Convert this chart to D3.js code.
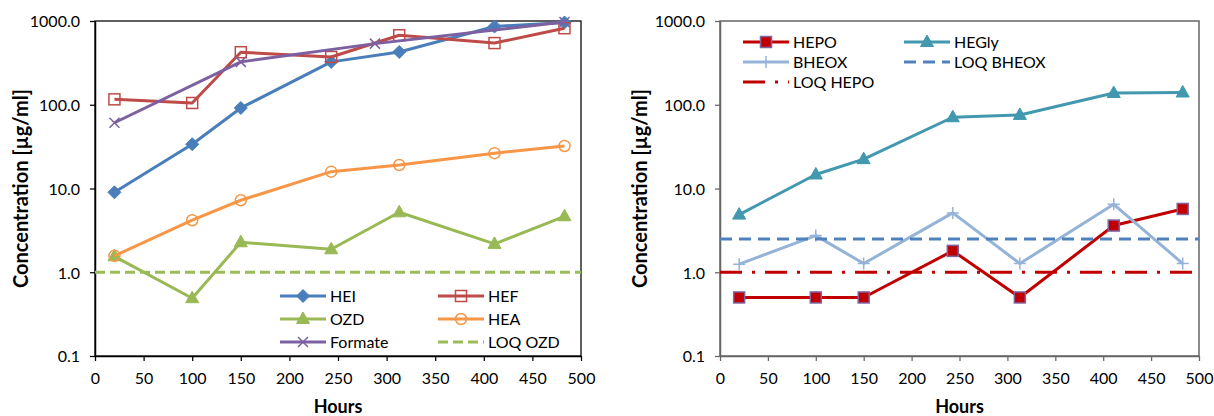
<!DOCTYPE html>
<html>
<head>
<meta charset="utf-8">
<script src="https://cdn.jsdelivr.net/npm/d3@7"></script>
<style>
  html, body { margin: 0; padding: 0; background: #fff; }
  svg { display: block; }
  text { font-family: Lato, "Open Sans", sans-serif; }
</style>
</head>
<body>
<svg id="chart" width="1214" height="416"></svg>
<script>
// ---------- data ----------
const hours = [20, 100, 150, 243, 313, 411, 483];
const formateHours = [20, 150, 288, 483];

const hei = [9.0, 33.8, 91.6, 325, 427, 860, 960];
const hef = [116, 105, 424, 372, 676, 545, 820];
const ozd = [1.55, 0.49, 2.28, 1.88, 5.2, 2.18, 4.66];
const hea = [1.57, 4.18, 7.24, 15.9, 19.1, 26.4, 32.2];
const formate = [61, 325, 537, 975];
const loqOzd = 1.0;

const hepo = [0.5, 0.5, 0.5, 1.8, 0.5, 3.61, 5.7];
const hegly = [4.88, 14.7, 22.4, 70.9, 75.6, 138, 140];
const bheox = [1.25, 2.74, 1.27, 5.11, 1.27, 6.48, 1.27];
const loqBheox = 2.5;
const loqHepo = 1.0;

const xTicks = [0, 50, 100, 150, 200, 250, 300, 350, 400, 450, 500];
const yTicks = [0.1, 1, 10, 100, 1000];
const yTickLabels = ["0.1", "1.0", "10.0", "100.0", "1000.0"];
const xTitle = "Hours";
const yTitle = "Concentration [µg/ml]";

// ---------- series definitions ----------
const leftSeries = [
  {name: "HEI", x: hours, y: hei, color: "#4A7EBB", marker: "diamond"},
  {name: "HEF", x: hours, y: hef, color: "#BE4B48", marker: "squareOpen"},
  {name: "OZD", x: hours, y: ozd, color: "#98B954", marker: "triangle"},
  {name: "HEA", x: hours, y: hea, color: "#F79646", marker: "circleOpen"},
  {name: "Formate", x: formateHours, y: formate, color: "#7D60A0", marker: "x"},
  {name: "LOQ OZD", loq: loqOzd, color: "#9BBB59", dash: "10,5"}
];
const rightSeries = [
  {name: "HEPO", x: hours, y: hepo, color: "#C00000", marker: "squareFilled", markerStroke: "#8064A2"},
  {name: "HEGly", x: hours, y: hegly, color: "#4198AF", marker: "triangle"},
  {name: "BHEOX", x: hours, y: bheox, color: "#95B3D7", marker: "plus"},
  {name: "LOQ BHEOX", loq: loqBheox, color: "#4F81BD", dash: "12,7"},
  {name: "LOQ HEPO", loq: loqHepo, color: "#C00000", dash: "22,10,3,10"}
];

const svg = d3.select("#chart");

function drawMarker(g, type, color, stroke, cx, cy) {
  const m = g.append("g").attr("transform", `translate(${cx},${cy})`);
  if (type === "diamond") {
    m.append("path").attr("d", "M0,-6.5L6.5,0L0,6.5L-6.5,0Z").attr("fill", color).attr("stroke", color).attr("stroke-width", 1);
  } else if (type === "squareOpen") {
    m.append("rect").attr("x", -5.5).attr("y", -5.5).attr("width", 11).attr("height", 11)
      .attr("fill", "none").attr("stroke", color).attr("stroke-width", 1.5);
  } else if (type === "squareFilled") {
    m.append("rect").attr("x", -5.5).attr("y", -5.5).attr("width", 11).attr("height", 11)
      .attr("fill", color).attr("stroke", stroke || color).attr("stroke-width", 1.5);
  } else if (type === "triangle") {
    m.append("path").attr("d", "M0,-7L6.5,4.5L-6.5,4.5Z").attr("fill", color).attr("stroke", color).attr("stroke-width", 1);
  } else if (type === "circleOpen") {
    m.append("circle").attr("r", 5.5).attr("fill", "none").attr("stroke", color).attr("stroke-width", 1.5);
  } else if (type === "x") {
    m.append("path").attr("d", "M-5,-5L5,5M-5,5L5,-5").attr("stroke", color).attr("stroke-width", 1.5).attr("fill", "none");
  } else if (type === "plus") {
    m.append("path").attr("d", "M-6,0L6,0M0,-6L0,6").attr("stroke", color).attr("stroke-width", 1.5).attr("fill", "none");
  }
}

function drawPanel(opt) {
  const x = d3.scaleLinear().domain([0, 500]).range([opt.x0, opt.x1]);
  const y = d3.scaleLog().domain([0.1, 1000]).range([opt.y1, opt.y0]);
  const g = svg.append("g");
  const axisColor = opt.axisColor;

  // plot border
  g.append("rect").attr("x", opt.x0).attr("y", opt.y0)
    .attr("width", opt.x1 - opt.x0).attr("height", opt.y1 - opt.y0)
    .attr("fill", "none").attr("stroke", axisColor).attr("stroke-width", opt.borderW);

  // axes
  const xAxis = d3.axisBottom(x).tickValues(xTicks).tickSize(5).tickSizeOuter(0).tickFormat(d3.format("d"));
  const yAxis = d3.axisLeft(y).tickValues(yTicks).tickSize(5).tickSizeOuter(0)
    .tickFormat((d, i) => yTickLabels[i]);
  const gx = g.append("g").attr("transform", `translate(0,${opt.y1})`).call(xAxis);
  const gy = g.append("g").attr("transform", `translate(${opt.x0},0)`).call(yAxis);
  [gx, gy].forEach(a => {
    a.select(".domain").attr("stroke", axisColor).attr("stroke-width", 1.5);
    a.selectAll(".tick line").attr("stroke", axisColor).attr("stroke-width", 1.25);
    a.selectAll(".tick text").attr("fill", "#000").style("font-size", "16px").style("font-family", "Lato");
  });
  gx.selectAll(".tick text").attr("dy", "0").attr("y", 28);
  gy.selectAll(".tick text").attr("x", -15).attr("dy", "0.36em");

  // titles
  g.append("text").attr("x", (opt.x0 + opt.x1) / 2).attr("y", 413).attr("text-anchor", "middle")
    .style("font-weight", "bold").style("font-size", "18px").text(xTitle);
  g.append("text").attr("transform", `translate(${opt.yTitleX},${(opt.y0 + opt.y1) / 2}) rotate(-90)`)
    .attr("text-anchor", "middle").style("font-weight", "bold").style("font-size", "20px").text(yTitle);

  const line = d3.line().x(d => x(d[0])).y(d => y(d[1]));

  opt.series.forEach(s => {
    const sg = g.append("g");
    if (s.loq !== undefined) {
      sg.append("line").attr("x1", x(0)).attr("x2", x(500)).attr("y1", y(s.loq)).attr("y2", y(s.loq))
        .attr("stroke", s.color).attr("stroke-width", 3).attr("stroke-dasharray", s.dash);
    } else {
      const pts = s.x.map((h, i) => [h, s.y[i]]);
      sg.append("path").datum(pts).attr("d", line).attr("fill", "none")
        .attr("stroke", s.color).attr("stroke-width", 3).attr("stroke-linejoin", "round");
      pts.forEach(p => drawMarker(sg, s.marker, s.color, s.markerStroke, x(p[0]), y(p[1])));
    }
  });

  // legend
  const lg = g.append("g");
  opt.series.forEach((s, i) => {
    const col = i % 2, row = Math.floor(i / 2);
    const lx = opt.legX[col], ly = opt.legY[row];
    if (s.loq !== undefined) {
      lg.append("line").attr("x1", lx).attr("x2", lx + 46).attr("y1", ly).attr("y2", ly)
        .attr("stroke", s.color).attr("stroke-width", 3).attr("stroke-dasharray", s.dash);
    } else {
      lg.append("line").attr("x1", lx).attr("x2", lx + 46).attr("y1", ly).attr("y2", ly)
        .attr("stroke", s.color).attr("stroke-width", 3);
      drawMarker(lg, s.marker, s.color, s.markerStroke, lx + 23, ly);
    }
    lg.append("text").attr("x", lx + 50).attr("y", ly).attr("dy", "0.36em")
      .style("font-size", "16px").text(s.name);
  });
}

drawPanel({id: "L", x0: 95, x1: 581, y0: 21, y1: 356, axisColor: "#000", borderW: 1.25,
  yTitleX: 28, series: leftSeries, legX: [280, 438], legY: [296, 319, 342]});
drawPanel({id: "R", x0: 720, x1: 1199, y0: 21, y1: 356, axisColor: "#666", borderW: 1.5,
  yTitleX: 647, series: rightSeries, legX: [743, 904], legY: [42, 62, 82]});
</script>
</body>
</html>
